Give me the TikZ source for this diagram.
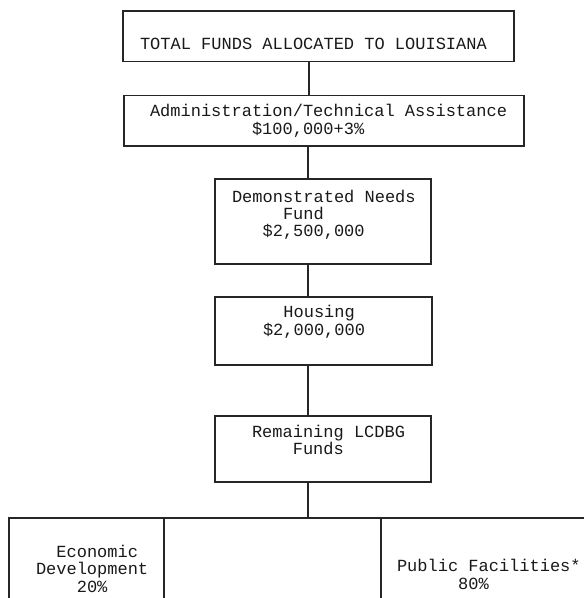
\documentclass[tikz,border=0pt]{standalone}
\usepackage{fontspec}
\setmonofont{Liberation Mono}
\begin{document}
\begin{tikzpicture}[x=1pt,y=-1pt,
  box/.style={draw=black!85, line width=1.1pt, rectangle, inner sep=0pt, outer sep=0pt},
  txt/.style={font=\ttfamily\fontsize{17}{17.3}\selectfont, text=black!90, inner sep=0pt, outer sep=0pt, align=left, anchor=base west},
  conn/.style={draw=black!85, line width=1.1pt}]
\useasboundingbox (0,0) rectangle (584,598);
\clip (0,0) rectangle (584,598);
% boxes
\node[box, minimum width=391pt, minimum height=50.5pt] (top) at (318.5,36.25) {};
\node[box, minimum width=400pt, minimum height=50.5pt] (admin) at (324,120.75) {};
\node[box, minimum width=216pt, minimum height=85pt] (dem) at (323,221.5) {};
\node[box, minimum width=217pt, minimum height=68pt] (hous) at (323.5,331) {};
\node[box, minimum width=216pt, minimum height=66pt] (rem) at (323,449) {};
\node[box, minimum width=155pt, minimum height=100pt, anchor=north west] (econ) at (9,518) {};
\node[box, minimum width=217pt, minimum height=100pt, anchor=north west] (mid) at (164,518) {};
\node[box, minimum width=220pt, minimum height=100pt, anchor=north west] (pub) at (381,518) {};
% texts (anchor = baseline of the last line)
\node[txt] (toptxt) at (140,49) {TOTAL FUNDS ALLOCATED TO LOUISIANA};
\node[txt] (admintxt) at (150,134) {Administration/Technical Assistance\\\hphantom{0000000000}\$100,000+3\%};
\node[txt] (demtxt) at (232,236.6) {Demonstrated Needs\\\hphantom{00000}Fund\\\hphantom{000}\$2,500,000};
\node[txt] (houstxt) at (263,335) {\hphantom{00}Housing\\\$2,000,000};
\node[txt] (remtxt) at (252,454.5) {Remaining LCDBG\\\hphantom{0000}Funds};
\node[txt] (econtxt) at (36,592) {\hphantom{00}Economic\\Development\\\hphantom{0000}20\%};
\node[txt] (pubtxt) at (397,589) {Public Facilities*\\\hphantom{000000}80\%};
% connectors
\coordinate (sp1) at (309,0);
\coordinate (sp) at (308,0);
\draw[conn] (top.south -| sp1) -- (admin.north -| sp1);
\draw[conn] (admin.south -| sp) -- (dem.north -| sp);
\draw[conn] (dem.south -| sp) -- (hous.north -| sp);
\draw[conn] (hous.south -| sp) -- (rem.north -| sp);
\draw[conn] (rem.south -| sp) -- (mid.north -| sp);
\end{tikzpicture}
\end{document}
